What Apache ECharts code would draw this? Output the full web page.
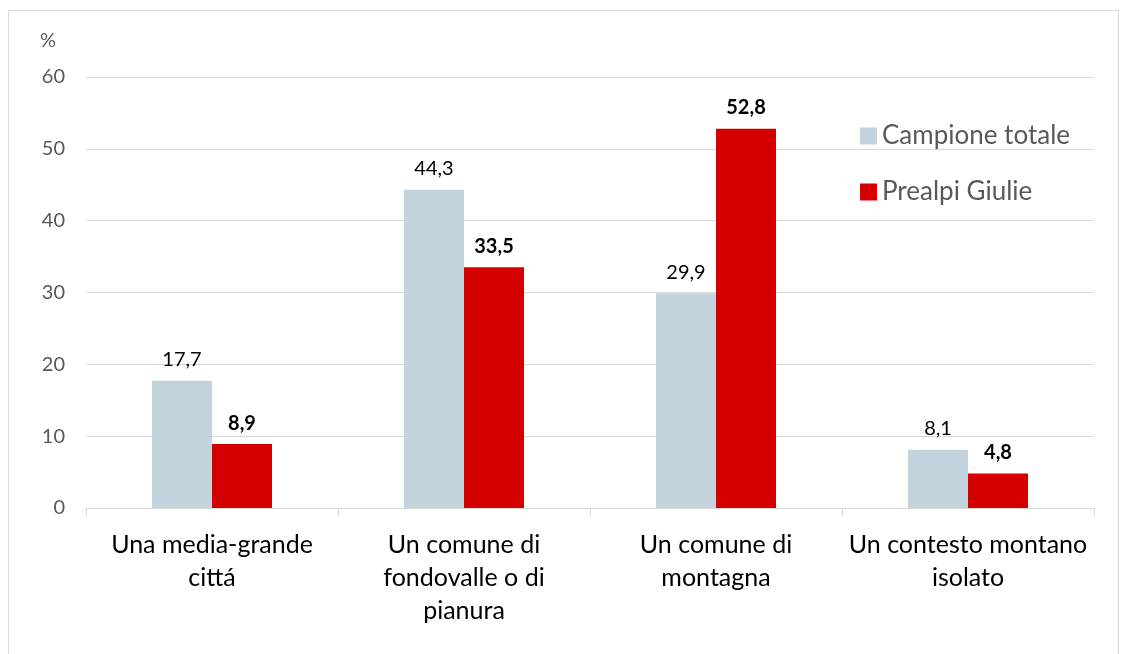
<!DOCTYPE html>
<html><head><meta charset="utf-8">
<script src="https://cdn.jsdelivr.net/npm/echarts@6/dist/echarts.min.js"></script>
<style>
html,body{margin:0;padding:0;background:#fff;}
#frame{position:absolute;left:8px;top:10px;width:1111px;height:660px;border:1px solid #d9d9d9;box-sizing:border-box;}
#c{position:absolute;left:0;top:0;width:1129px;height:654px;}
</style></head>
<body>
<div id="frame"></div>
<div id="c"></div>
<script>
const categories = ['Una media-grande\ncittá', 'Un comune di\nfondovalle o di\npianura', 'Un comune di\nmontagna', 'Un contesto montano\nisolato'];
const seriesNames = ['Campione totale', 'Prealpi Giulie'];
const campioneTotale = [17.7, 44.3, 29.9, 8.1];
const prealpiGiulie = [8.9, 33.5, 52.8, 4.8];
const yTicks = [0, 10, 20, 30, 40, 50, 60];

const FONT = 'Lato, "Open Sans", sans-serif';
const fmt = p => String(p.value).replace('.', ',');
const chart = echarts.init(document.getElementById('c'));
chart.setOption({
  animation: false,
  textStyle: { fontFamily: FONT },
  grid: { left: 86, right: 35, top: 77, bottom: 146, containLabel: false },
  legend: {
    orient: 'vertical', left: 855, top: 118, itemGap: 30,
    itemWidth: 17, itemHeight: 17, icon: 'rect',
    textStyle: { fontSize: 26, color: '#595959', fontFamily: FONT },
    data: seriesNames
  },
  xAxis: {
    type: 'category', data: categories,
    axisLine: { lineStyle: { color: '#d9d9d9', width: 1 } },
    axisTick: { show: true, length: 8, lineStyle: { color: '#d9d9d9' } },
    axisLabel: { fontSize: 25, color: '#000', lineHeight: 33, margin: 20, interval: 0, fontFamily: FONT }
  },
  yAxis: {
    type: 'value', min: yTicks[0], max: yTicks[yTicks.length - 1], interval: 10,
    name: '%', nameLocation: 'end', nameGap: 26,
    nameTextStyle: { fontSize: 20, color: '#595959', align: 'left', padding: [0, 0, 0, -46], fontFamily: FONT },
    axisLine: { show: false }, axisTick: { show: false },
    axisLabel: { fontSize: 20, color: '#595959', margin: 21, fontFamily: FONT },
    splitLine: { lineStyle: { color: '#d9d9d9', width: 1 } }
  },
  series: [
    {
      name: seriesNames[0], type: 'bar', data: campioneTotale,
      barWidth: 60, barGap: '0%',
      itemStyle: { color: '#c3d3de' },
      label: { show: true, position: 'top', distance: 11, fontSize: 20, color: '#000', formatter: fmt, fontFamily: FONT }
    },
    {
      name: seriesNames[1], type: 'bar', data: prealpiGiulie,
      barWidth: 60, barGap: '0%',
      itemStyle: { color: '#d40000' },
      label: { show: true, position: 'top', distance: 11, fontSize: 20, fontWeight: 'bold', color: '#000', formatter: fmt, fontFamily: FONT }
    }
  ]
});
</script>
</body></html>
